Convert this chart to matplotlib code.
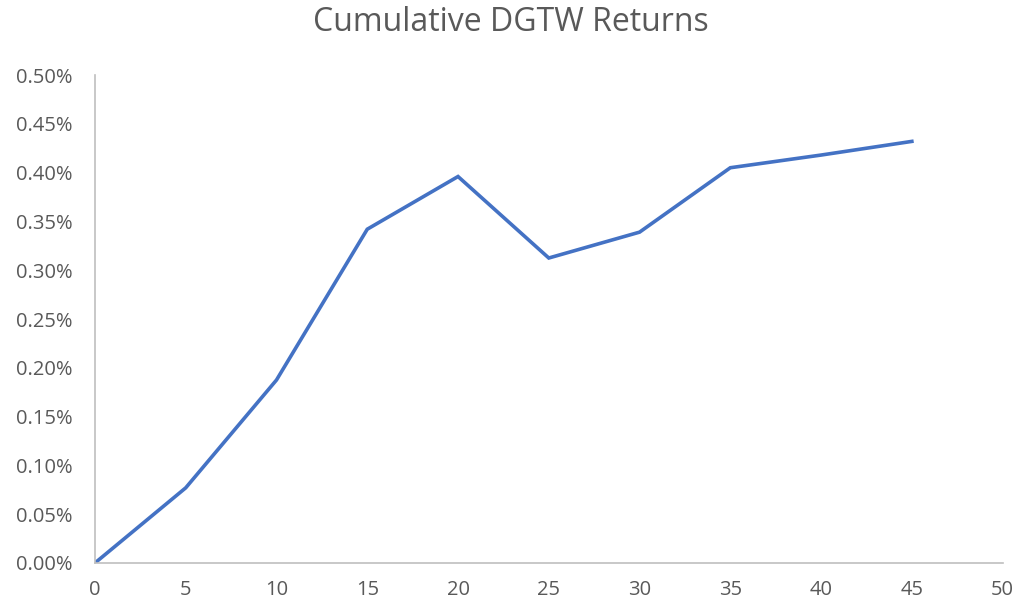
import numpy as np
import matplotlib.pyplot as plt
from matplotlib.ticker import FuncFormatter

# data
days = [0, 5, 10, 15, 20, 25, 30, 35, 40, 45]
cum_ret = [0.0, 0.077, 0.1875, 0.342, 0.396, 0.3125, 0.339, 0.405, 0.418, 0.432]  # percent

plt.rcParams['font.family'] = ['Open Sans', 'DejaVu Sans']

fig = plt.figure(figsize=(10.21, 6.11), dpi=100)
ax = fig.add_axes([0.093, 0.0786, 0.889, 0.7986])

ax.plot(days, cum_ret, color='#4472C4', linewidth=2.6, solid_joinstyle='miter')

ax.set_xlim(0, 50)
ax.set_ylim(0, 0.5)
ax.set_xticks(np.arange(0, 51, 5))
ax.set_yticks(np.arange(0, 0.501, 0.05))
ax.yaxis.set_major_formatter(FuncFormatter(lambda v, p: '%.2f%%' % v))

for s in ['top', 'right']:
    ax.spines[s].set_visible(False)
for s in ['left', 'bottom']:
    ax.spines[s].set_color('#BFBFBF')
    ax.spines[s].set_linewidth(1.2)

ax.tick_params(length=0, labelsize=14.5, colors='#595959')
ax.tick_params(axis='x', pad=12)
ax.tick_params(axis='y', pad=16)

fig.suptitle('Cumulative DGTW Returns', fontsize=23, color='#595959', y=0.99)

plt.savefig('out.png', dpi=100)
